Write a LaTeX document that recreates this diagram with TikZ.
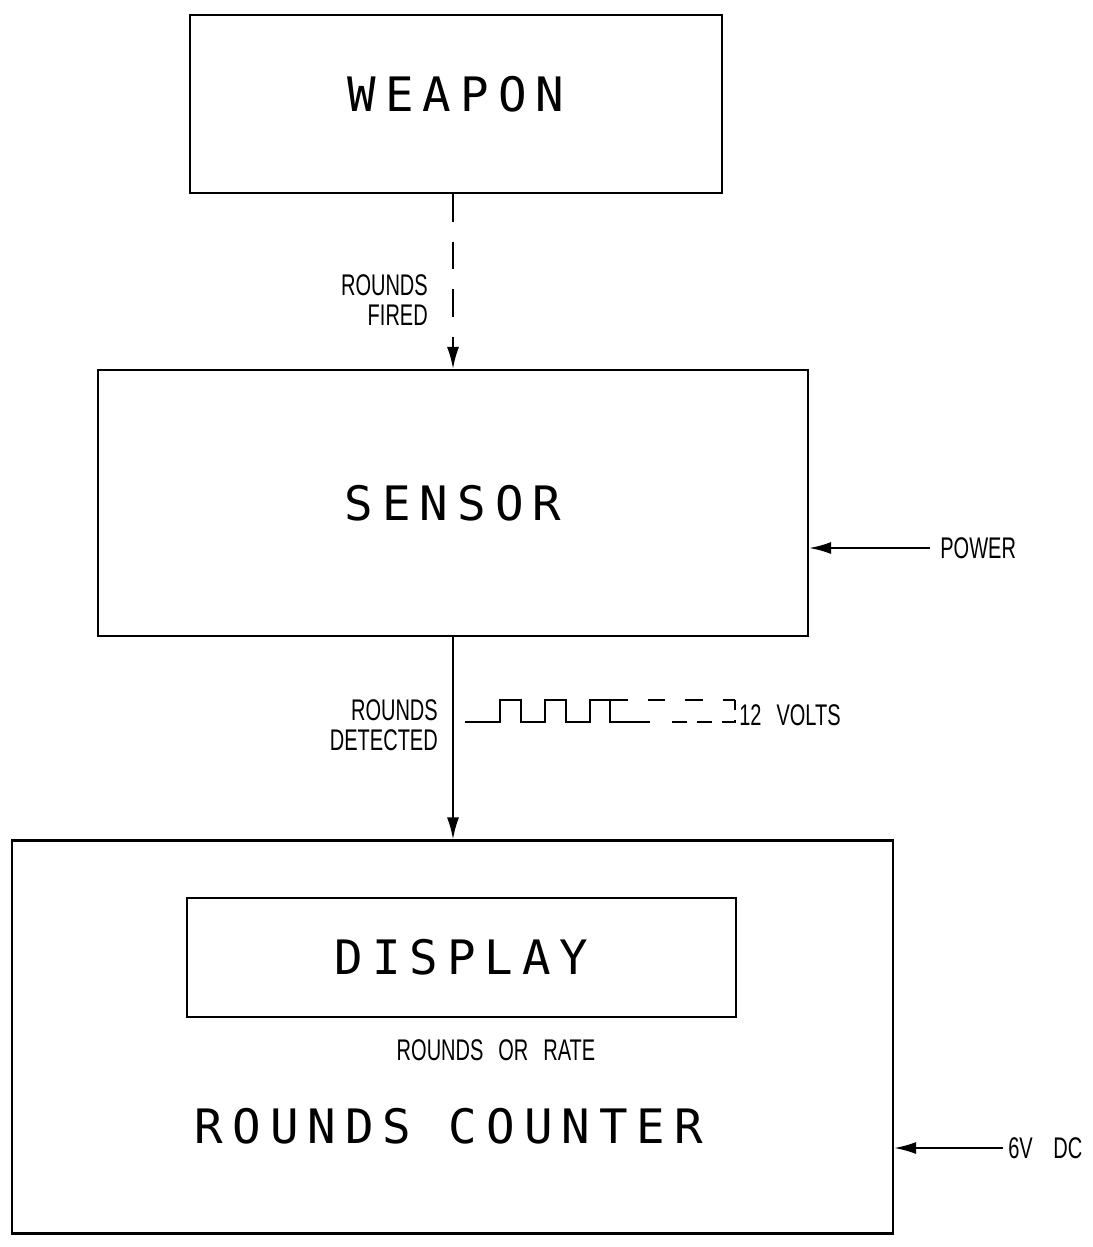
\documentclass[tikz,border=0pt]{standalone}
\usepackage{fontspec}
\setmainfont{Liberation Sans}
\newfontfamily\bigfont[LetterSpace=19]{DejaVu Sans Mono}
\newfontfamily\smallfont[FakeStretch=0.67]{Liberation Sans}
\usetikzlibrary{arrows.meta}

\tikzset{
  blk/.style={draw, line width=1.2pt, inner sep=0pt},
  bigtxt/.style={font=\bigfont\fontsize{27}{32}\selectfont},
  lbl/.style={font=\smallfont\fontsize{17}{17}\selectfont},
  sig/.style={line width=1.2pt, -{Latex[length=4.4mm,width=2.4mm]}},
}

\begin{document}
\begin{tikzpicture}
        \useasboundingbox (0,0) rectangle (21.84,-24.94);

        % Blocos
        \node[blk, bigtxt, minimum width=10.64cm, minimum height=3.56cm]
            (weapon) at (9.12,-2.08) {\raisebox{0.4cm}{WEAPON}};
        \node[blk, bigtxt, minimum width=14.2cm, minimum height=5.32cm]
            (sensor) at (9.06,-10.06) {SENSOR};
        \node[blk, minimum width=17.62cm, minimum height=7.86cm]
            (counter) at (9.05,-20.74) {};
        \node[blk, bigtxt, minimum width=10.98cm, minimum height=2.38cm]
            (display) at (9.23,-19.15) {DISPLAY};
        \node[bigtxt] (countername) at (8.98,-22.52) {ROUNDS COUNTER};
        \node[lbl] (rate) at (9.92,-21.0) {ROUNDS\enspace OR\enspace RATE};

        % Ligacoes
        \draw[sig, dash pattern=on 0.55cm off 0.4cm]
            (weapon.south -| sensor.north) -- (sensor.north);
        \draw[sig] (sensor.south) -- (counter.north -| sensor.south);
        \node[lbl, anchor=east, align=right] (fired) at (8.68,-6.0) {ROUNDS\\FIRED};
        \node[lbl, anchor=east, align=right] (detected) at (8.88,-14.5) {ROUNDS\\DETECTED};

        % Alimentacao
        \node[lbl, anchor=west, inner sep=0pt] (power) at (18.8,-10.96) {POWER};
        \draw[sig] ([xshift=-0.2cm]power.west) -- (sensor.east |- power.west);
        \node[lbl, anchor=west, inner sep=0pt] (dc) at (20.16,-22.96) {6V\enspace\ DC};
        \draw[sig] ([xshift=-0.1cm]dc.west) -- (counter.east |- dc.west);

        % Forma de onda
        \def\lo{-14.44}
        \def\hi{-14.0}
        \draw[line width=1.2pt] (9.3,\lo)
            \foreach \a/\b in {10.0/10.42, 10.9/11.32, 11.8/12.2} {
                -- (\a,\lo) -- (\a,\hi) -- (\b,\hi) -- (\b,\lo)
            } -- (13.0,\lo);
        \draw[line width=1.2pt, dash pattern=on 0.35cm off 0.4cm] (12.2,\hi) -- (14.7,\hi);
        \draw[line width=1.2pt, dash pattern=on 0.3cm off 0.2cm] (13.44,\lo) -- (14.7,\lo) -- (14.7,\hi);
        \node[lbl, anchor=west, inner sep=0pt] (volts) at (14.78,-14.3) {12\enspace VOLTS};
\end{tikzpicture}
\end{document}
